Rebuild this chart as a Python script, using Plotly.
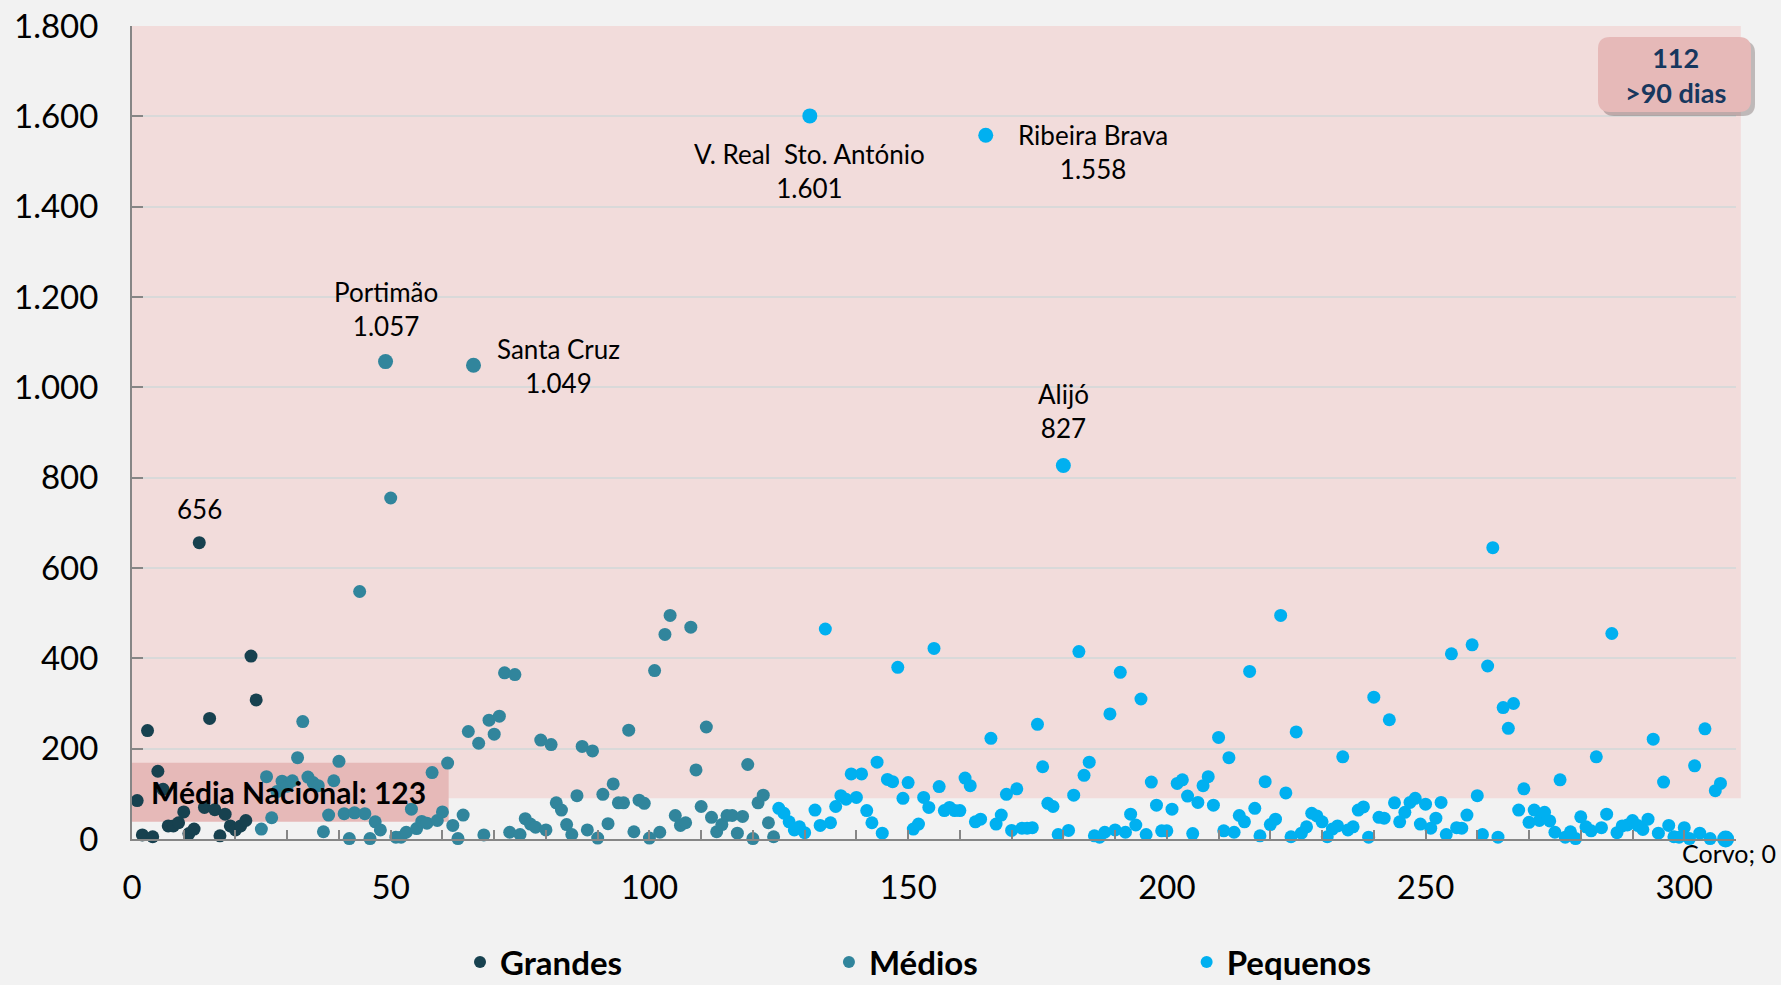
import plotly.graph_objects as go

# ---------------- data ----------------
grandes = [85, 9, 240, 5, 150, 110, 29, 29, 36, 60, 12, 22, 656, 70, 267, 65,
           7, 55, 29, 20, 29, 41, 405, 308]

medios = [22, 138, 47, 105, 128, 117, 129, 180, 260, 137,
          125, 118, 16, 53, 129, 172, 56, 1, 58, 548,
          56, 1, 38, 20, 1057, 755, 4, 4, 15, 66,
          23, 39, 35, 147, 41, 60, 168, 30, 1, 53,
          238, 1049, 212, 9, 263, 232, 272, 368, 15, 364,
          10, 45, 33, 26, 219, 20, 209, 80, 64, 32,
          10, 96, 205, 20, 195, 2, 99, 34, 122, 80,
          80, 241, 16, 86, 79, 2, 373, 15, 453, 495,
          52, 30, 36, 469, 153, 72, 248, 48, 16, 32,
          52, 52, 13, 50, 165, 1, 80, 97, 36, 5]

pequenos = [68, 57, 38, 20, 27, 14, 1601, 64, 30, 465,
            36, 72, 96, 88, 144, 92, 144, 63, 36, 170,
            13, 132, 127, 380, 90, 125, 22, 33, 92, 70,
            422, 116, 63, 70, 63, 63, 135, 118, 38, 44,
            1558, 223, 33, 53, 99, 19, 111, 24, 24, 25,
            254, 160, 79, 72, 10, 827, 19, 97, 415, 141,
            170, 7, 4, 15, 277, 20, 369, 15, 55, 31,
            310, 10, 126, 75, 18, 18, 66, 123, 131, 95,
            12, 81, 118, 138, 75, 225, 18, 180, 15, 52,
            38, 371, 68, 7, 127, 32, 44, 495, 102, 5,
            237, 13, 27, 57, 51, 38, 5, 22, 29, 182,
            20, 27, 64, 71, 4, 314, 48, 46, 264, 80,
            38, 59, 81, 90, 33, 77, 24, 46, 81, 10,
            410, 25, 24, 53, 430, 96, 10, 383, 645, 4,
            291, 245, 300, 64, 111, 37, 64, 41, 59, 40,
            15, 131, 4, 16, 1, 49, 27, 18, 182, 25,
            55, 455, 14, 29, 31, 41, 30, 21, 44, 221,
            13, 126, 30, 5, 4, 25, 1, 162, 13, 244,
            1, 107, 123, 0]

group_names = ["Grandes", "Médios", "Pequenos"]

# labelled municipalities: rank position and name
label_pos = [13, 49, 66, 131, 165, 180, 308]
label_names = ["", "Portimão", "Santa Cruz", "V. Real\u00a0 Sto. António",
               "Ribeira Brava", "Alijó", "Corvo"]

media_nacional = 123
n_over_90 = 112
threshold = 90

y_ticks = [0, 200, 400, 600, 800, 1000, 1200, 1400, 1600, 1800]
x_ticks = [0, 50, 100, 150, 200, 250, 300]

# ---------------- styles ----------------
colors = ["#17414F", "#31859C", "#00B0F0"]
FONT = "Lato, 'Open Sans', sans-serif"
big_size = {49: 15, 66: 15, 131: 15, 165: 15, 180: 15, 308: 17}
# label offsets in pixels (xshift, yshift, xanchor, font size)
label_offsets = {13: (0, 34, "center", 26), 49: (0, 53, "center", 26),
                 66: (85, -1, "center", 26), 131: (0, -55, "center", 26),
                 165: (107, -17, "center", 26), 180: (0, 54, "center", 26),
                 308: (51, -14, "right", 25)}


def fmt(v):
    return f"{v:,}".replace(",", ".")


fig = go.Figure()

series = [grandes, medios, pequenos]
start = 1
all_vals = {}
for name, vals, col in zip(group_names, series, colors):
    xs = list(range(start, start + len(vals)))
    for xx, vv in zip(xs, vals):
        all_vals[xx] = vv
    sizes = [big_size.get(xx, 13) for xx in xs]
    fig.add_trace(go.Scatter(
        x=xs, y=vals, mode="markers", name=name, showlegend=False,
        cliponaxis=False,
        marker=dict(color=col, size=sizes, opacity=1, line=dict(width=0)),
    ))
    start += len(vals)

# legend-only traces, each in its own legend for exact placement
legend_x = [0.2045, 0.4345, 0.6575]
legend_keys = ["legend", "legend2", "legend3"]
for name, col, lk in zip(group_names, colors, legend_keys):
    fig.add_trace(go.Scatter(
        x=[None], y=[None], mode="markers", name=name, legend=lk,
        marker=dict(color=col, size=12, opacity=1), showlegend=True,
    ))

legend_common = dict(orientation="h", xanchor="left", y=(839 - 962) / 813.0, yanchor="middle",
                     bgcolor="rgba(0,0,0,0)", borderwidth=0,
                     font=dict(family=FONT, size=33, color="black", weight="bold"))

# ---------------- shapes ----------------
shapes = [
    dict(type="rect", xref="paper", yref="y", x0=0, x1=1.003, y0=threshold, y1=1800,
         fillcolor="#F2DCDB", line=dict(width=0), layer="below"),
    dict(type="rect", xref="x", yref="y", x0=0, x1=61.2, y0=38, y1=169,
         fillcolor="#E6B9B8", line=dict(width=0), layer="below"),
]


def rounded(x0, y0, x1, y1, rx, ry):
    return (f"M {x0+rx},{y0} L {x1-rx},{y0} Q {x1},{y0} {x1},{y0+ry} "
            f"L {x1},{y1-ry} Q {x1},{y1} {x1-rx},{y1} L {x0+rx},{y1} "
            f"Q {x0},{y1} {x0},{y1-ry} L {x0},{y0+ry} Q {x0},{y0} {x0+rx},{y0} Z")


pw, ph = 1604.0, 813.0
bx0, bx1 = (1598 - 132) / pw, (1751 - 132) / pw
by0, by1 = (839 - 112) / ph, (839 - 37) / ph
rx, ry = 12 / pw, 12 / ph
sx, sy = 4 / pw, 4 / ph
shapes.append(dict(type="path", xref="paper", yref="paper",
                   path=rounded(bx0 + sx, by0 - sy, bx1 + sx, by1 - sy, rx, ry),
                   fillcolor="rgba(60,40,40,0.28)", line=dict(width=0), layer="above"))
shapes.append(dict(type="path", xref="paper", yref="paper",
                   path=rounded(bx0, by0, bx1, by1, rx, ry),
                   fillcolor="#E6B9B8", line=dict(width=0), layer="above"))

# ---------------- annotations ----------------
annotations = []
for pos, nm in zip(label_pos, label_names):
    v = all_vals[pos]
    if nm == "":
        txt = fmt(v)
    elif nm == "Corvo":
        txt = f"{nm}; {fmt(v)}"
    else:
        txt = f"{nm}<br>{fmt(v)}"
    xs_, ys_, xa, fs = label_offsets[pos]
    annotations.append(dict(x=pos, y=v, xref="x", yref="y", text=txt, showarrow=False,
                            xshift=xs_, yshift=ys_, xanchor=xa, yanchor="middle",
                            borderpad=0,
                            font=dict(family=FONT, size=fs, color="black")))

annotations.append(dict(x=30.3, y=103, xref="x", yref="y",
                        text=f"<b>Média Nacional: {media_nacional}</b>", showarrow=False,
                        xanchor="center", yanchor="middle",
                        font=dict(family=FONT, size=30, color="black")))
annotations.append(dict(x=(1675 - 132) / pw, y=(839 - 75) / ph, xref="paper", yref="paper",
                        text=f"<b>{n_over_90}</b><br><b>&gt;{threshold} dias</b>",
                        showarrow=False, xanchor="center", yanchor="middle",
                        font=dict(family=FONT, size=27, color="#17375E")))

fig.update_layout(
    width=1781, height=985,
    margin=dict(l=132, r=45, t=26, b=146, autoexpand=False),
    paper_bgcolor="#F2F2F2", plot_bgcolor="rgba(0,0,0,0)",
    separators=",.",
    font=dict(family=FONT, size=26, color="black"),
    shapes=shapes, annotations=annotations,
    legend=dict(x=legend_x[0], **legend_common),
    legend2=dict(x=legend_x[1], **legend_common),
    legend3=dict(x=legend_x[2], **legend_common),
    xaxis=dict(range=[0, 310], tickvals=x_ticks, showgrid=False, zeroline=False,
               showline=True, linecolor="#868686", linewidth=2,
               ticks="inside", ticklen=9, tickwidth=2, tickcolor="#868686",
               minor=dict(dtick=10, tick0=0, ticks="inside", ticklen=9, tickwidth=2,
                          tickcolor="#868686", showgrid=False),
               tickfont=dict(family=FONT, size=33, color="black"),
               ticklabelstandoff=18),
    yaxis=dict(range=[0, 1800], tickvals=y_ticks, tickformat=",d", showgrid=True,
               gridcolor="#D9D9D9", gridwidth=2, zeroline=False,
               showline=True, linecolor="#868686", linewidth=2,
               ticks="inside", ticklen=11, tickwidth=2, tickcolor="#868686",
               tickfont=dict(family=FONT, size=33, color="black"),
               ticklabelstandoff=25),
)

fig.write_html("out.html", config={"displayModeBar": False},
               post_script="document.body.style.margin='0';document.body.style.overflow='hidden';")
